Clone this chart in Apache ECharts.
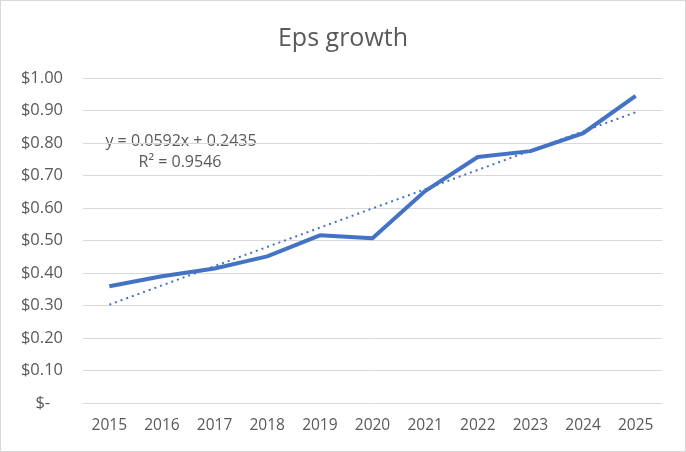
<!DOCTYPE html>
<html><head><meta charset="utf-8">
<script src="https://cdn.jsdelivr.net/npm/echarts@6/dist/echarts.min.js"></script>
<style>html,body{margin:0;padding:0;background:#fff}#c{width:684px;height:450px;border:1px solid #d9d9d9}</style>
</head><body><div id="c"></div>
<script>
const years = ['2015','2016','2017','2018','2019','2020','2021','2022','2023','2024','2025'];
const eps = [0.359, 0.390, 0.414, 0.451, 0.516, 0.507, 0.652, 0.757, 0.775, 0.830, 0.945];
const trend = [0.3027, null, null, null, null, null, null, null, null, null, 0.8947];
const trendLabel = ['y = 0.0592x + 0.2435', 'R² = 0.9546'];
const yTicks = {min: 0, max: 1, interval: 0.1};

const chart = echarts.init(document.getElementById('c'));
const font = '"Open Sans", "Noto Sans", sans-serif';
chart.setOption({
  animation: false,
  textStyle: {fontFamily: font},
  title: {text: 'Eps growth', left: 'center', top: 20,
    textStyle: {fontFamily: font, fontSize: 25, fontWeight: 'normal', color: '#595959'}},
  grid: {left: 82, right: 23, top: 77, bottom: 48},
  xAxis: {type: 'category', data: years, boundaryGap: true,
    axisLine: {lineStyle: {color: '#d9d9d9'}}, axisTick: {show: false},
    axisLabel: {color: '#595959', fontSize: 15.5, margin: 15, fontFamily: font}},
  yAxis: {type: 'value', min: yTicks.min, max: yTicks.max, interval: yTicks.interval,
    axisLine: {show: false}, axisTick: {show: false},
    splitLine: {lineStyle: {color: '#d9d9d9', width: 1}},
    axisLabel: {color: '#595959', fontSize: 16.5, margin: 20, fontFamily: font,
      formatter: v => v === 0 ? '$-   ' : '$' + v.toFixed(2)}},
  series: [
    {type: 'line', data: eps, symbol: 'none', lineStyle: {color: '#4472C4', width: 4}, z: 3},
    {type: 'line', data: trend, connectNulls: true, symbol: 'none',
      lineStyle: {color: '#4472C4', width: 2, type: [2, 4]}, z: 2}
  ],
  graphic: [
    {type: 'text', x: 180, y: 140, style: {text: trendLabel[0], fill: '#595959', font: '16px ' + font, align: 'center', verticalAlign: 'middle'}},
    {type: 'text', x: 179, y: 161, style: {text: trendLabel[1], fill: '#595959', font: '16px ' + font, align: 'center', verticalAlign: 'middle'}}
  ]
});
</script></body></html>
